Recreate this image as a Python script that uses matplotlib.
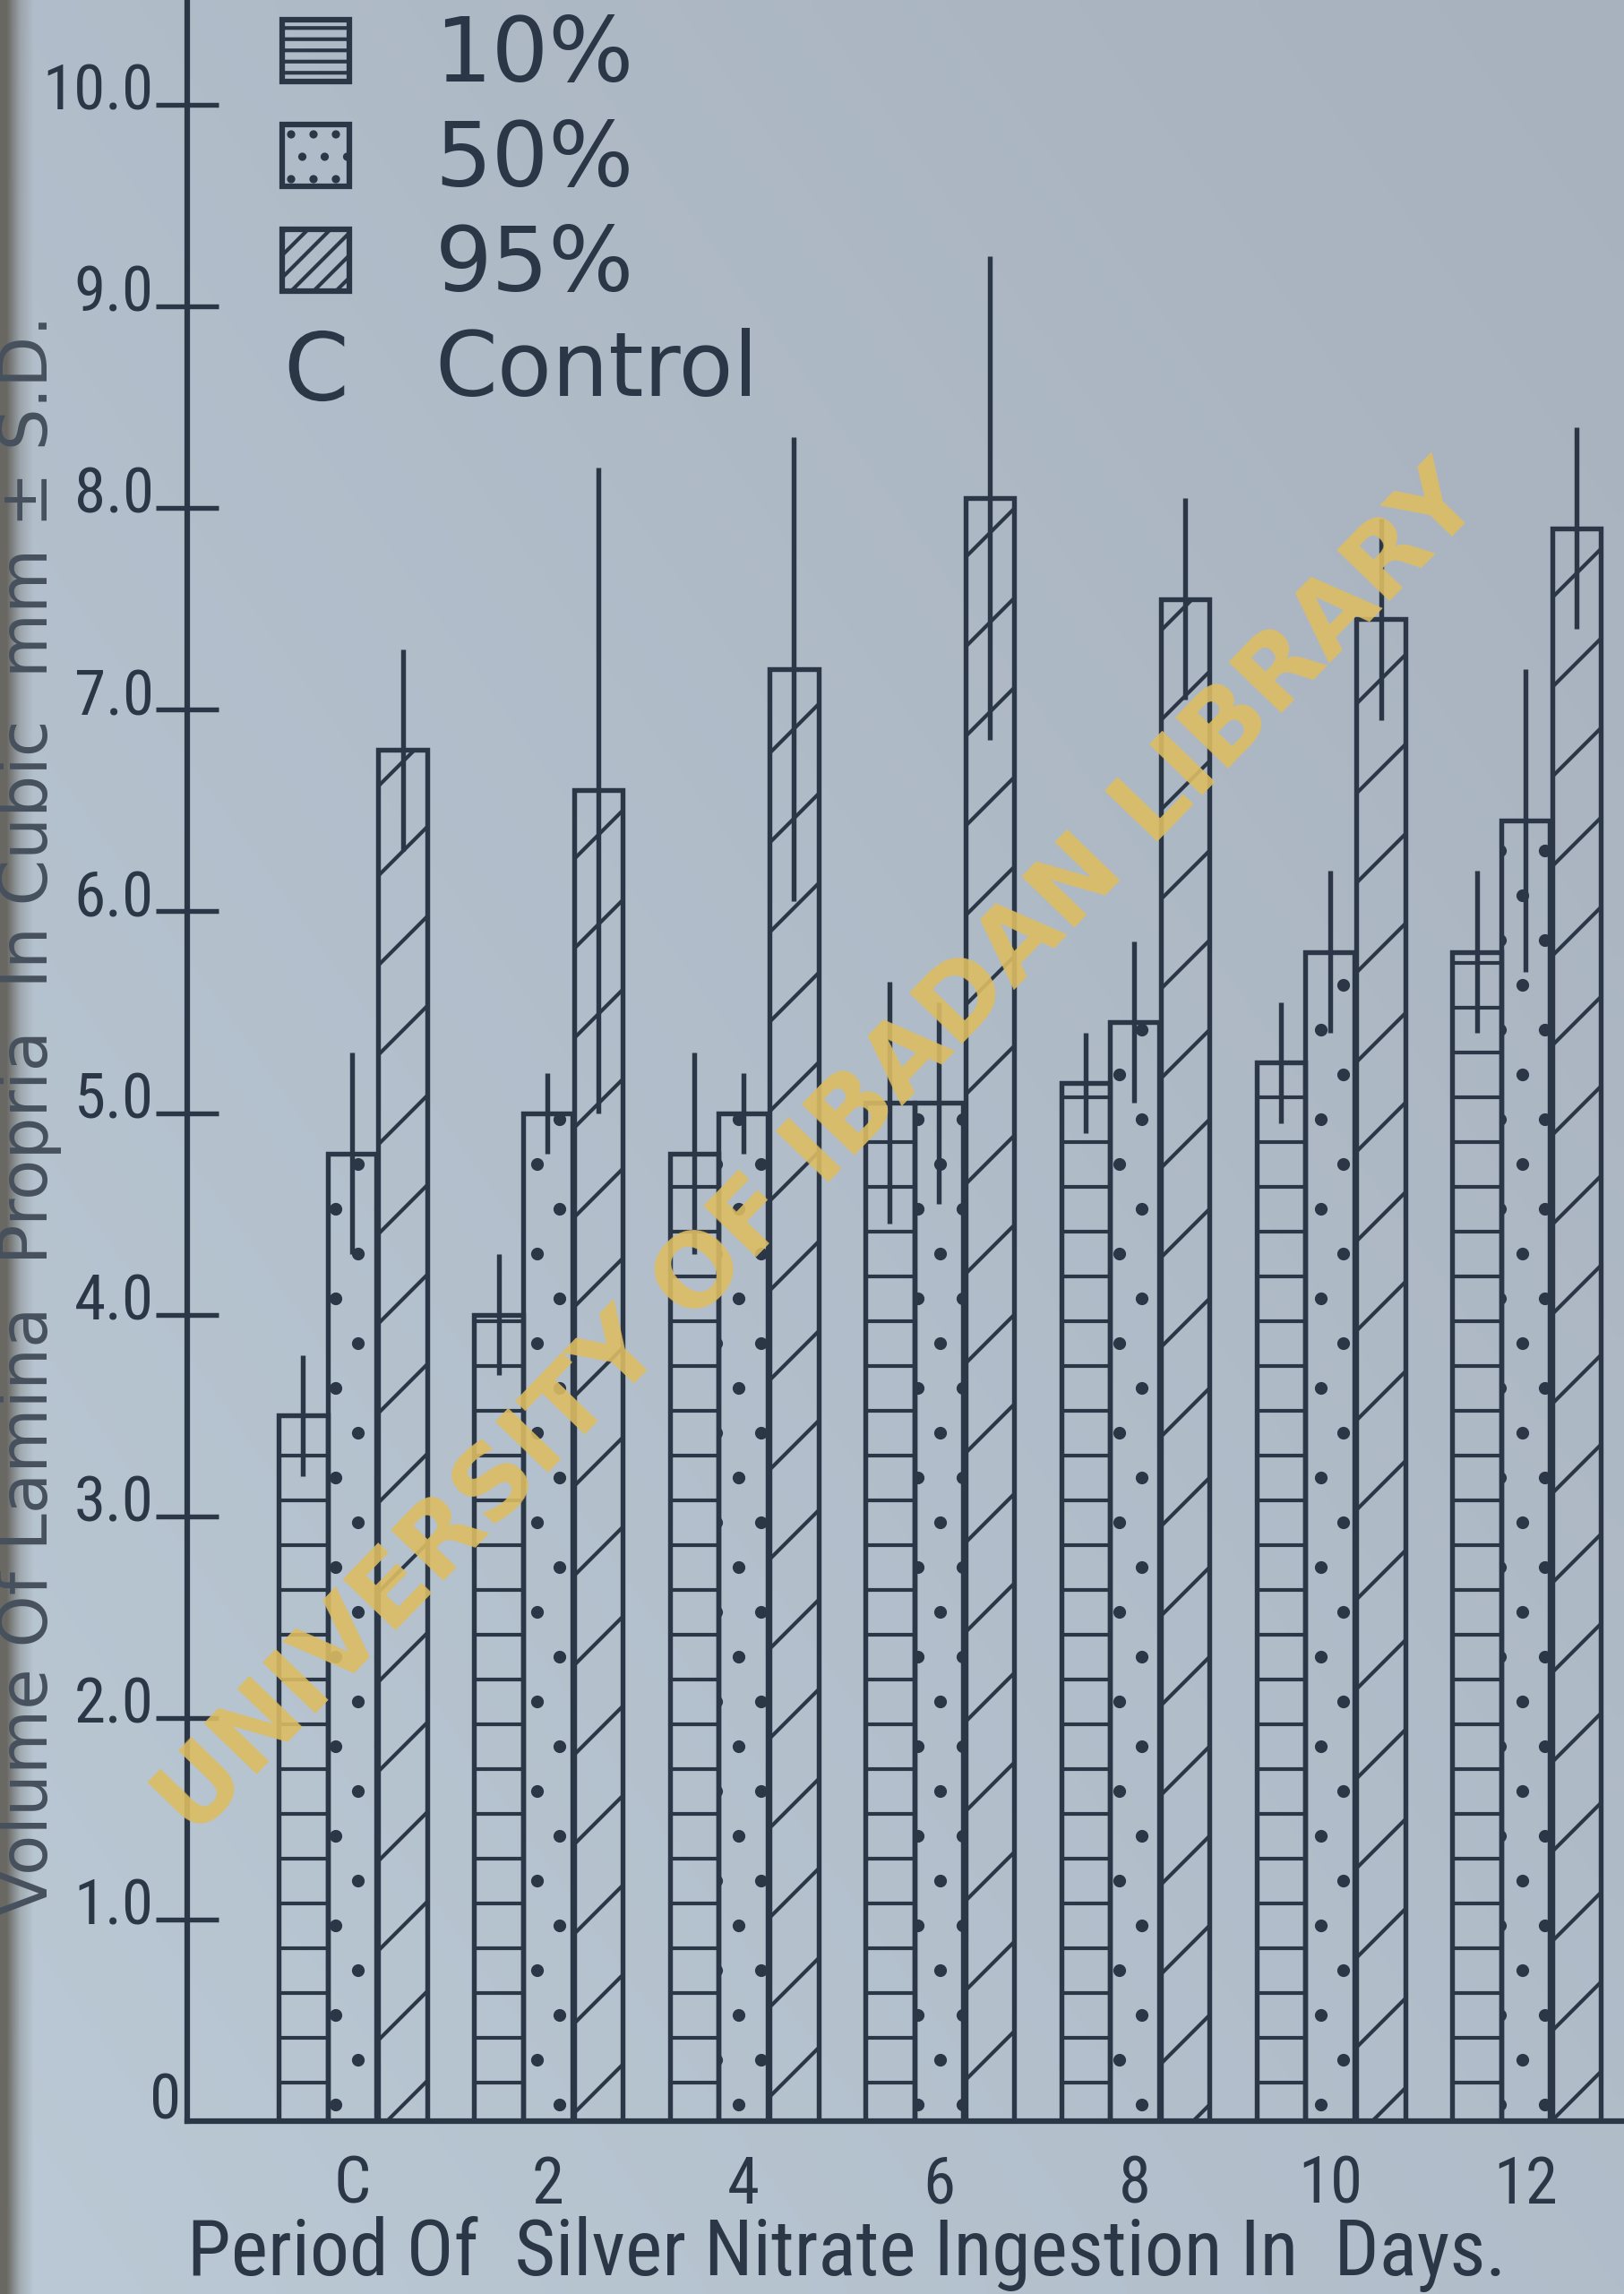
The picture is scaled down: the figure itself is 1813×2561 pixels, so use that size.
import matplotlib
matplotlib.use('Agg')
import matplotlib.pyplot as plt
import numpy as np
import matplotlib.transforms as mtransforms
from matplotlib.lines import Line2D
from matplotlib.patches import Patch
from matplotlib import font_manager as fm

# ---------------- data ----------------
groups = ['C', '2', '4', '6', '8', '10', '12']
series_labels = ['10%', '50%', '95%']
mean_10 = [3.5, 4.0, 4.8, 5.05, 5.15, 5.25, 5.8]
sd_10 = [0.3, 0.3, 0.5, 0.6, 0.25, 0.3, 0.4]
mean_50 = [4.8, 5.0, 5.0, 5.05, 5.45, 5.8, 6.45]
sd_50 = [0.5, 0.2, 0.2, 0.5, 0.4, 0.4, 0.75]
mean_95 = [6.8, 6.6, 7.2, 8.05, 7.55, 7.45, 7.9]
sd_95 = [0.5, 1.6, 1.15, 1.2, 0.5, 0.5, 0.5]
ytick_values = [0, 1, 2, 3, 4, 5, 6, 7, 8, 9, 10]
ytick_labels = ['0', '1.0', '2.0', '3.0', '4.0', '5.0', '6.0', '7.0', '8.0', '9.0', '10.0']
control_label = 'Control'
xlabel = 'Period Of  Silver Nitrate Ingestion In  Days.'
ylabel = 'Volume Of Lamina  Propria  In Cubic  mm \u00b1 S.D.'
watermark = 'UNIVERSITY OF IBADAN LIBRARY'

# ---------------- style ----------------
INK = '#2b3746'
WM = '#dcbd62'
BG_TR = np.array([168, 177, 190]) / 255.0   # top-right tone
BG_BL = np.array([186, 201, 213]) / 255.0   # bottom-left tone
BG = tuple((BG_TR + BG_BL) / 2)


def find_narrow():
    names = {f.name for f in fm.fontManager.ttflist}
    for p in ['Liberation Sans Narrow', 'Roboto Condensed', 'Open Sans Condensed',
              'Noto Sans Condensed', 'DejaVu Sans Condensed']:
        if p in names:
            return dict(fontfamily=p)
    for fam in ['DejaVu Sans', 'Noto Sans', 'Liberation Sans', 'Roboto', 'Open Sans']:
        for f in fm.fontManager.ttflist:
            if f.name == fam and str(f.stretch) in ('condensed', 'semi-condensed') \
                    and f.style == 'normal' and str(f.weight) in ('400', 'normal', 'regular', 'book'):
                return dict(fontfamily=fam, fontstretch=str(f.stretch))
    if 'Liberation Sans' in names:
        return dict(fontfamily='Liberation Sans')
    return dict(fontfamily='DejaVu Sans')


NARROW = find_narrow()

plt.rcParams['font.family'] = ['DejaVu Sans']
plt.rcParams['hatch.linewidth'] = 1.0
plt.rcParams['hatch.color'] = INK

DPI = 300
W, H = 1813, 2561
S = W / 1110.0  # reference-preview px -> output px
fig = plt.figure(figsize=(W / DPI, H / DPI), dpi=DPI)
fig.patch.set_facecolor(BG)

# paper tone (gradient) + book-gutter shadow, purely decorative
bax = fig.add_axes([0, 0, 1, 1], zorder=-10)
u = np.linspace(0, 1, 120)[None, :]
v = np.linspace(0, 1, 170)[:, None]
t = np.clip((u + (1 - v)) / 2, 0, 1)[..., None]
img = BG_BL * (1 - t) + BG_TR * t
shade = np.clip(1 - u / 0.012, 0, 1)[..., None][0][None, :, :]
gutter = np.array([92, 88, 80]) / 255.0
img = img * (1 - 0.85 * shade) + gutter * 0.85 * shade
bax.imshow(img, aspect='auto', extent=(0, 1, 0, 1), interpolation='bilinear')
bax.set_axis_off()

ax = fig.add_axes([0.1153, 0.0753, 1 - 0.1153, 1 - 0.0753])
ax.set_facecolor('none')

x = np.arange(len(groups))
w = 0.25
bar_kw = dict(width=w, facecolor='none', edgecolor=INK, linewidth=1.3, zorder=2)
b10 = ax.bar(x - 0.25, mean_10, hatch='-', **bar_kw)
b50 = ax.bar(x, mean_50, hatch='.', **bar_kw)
b95 = ax.bar(x + 0.26, mean_95, hatch='/', **bar_kw)

err_kw = dict(fmt='none', ecolor=INK, elinewidth=1.3, capsize=0, zorder=3)
ax.errorbar(x - 0.25, mean_10, yerr=sd_10, **err_kw)
ax.errorbar(x, mean_50, yerr=sd_50, **err_kw)
ax.errorbar(x + 0.26, mean_95, yerr=sd_95, **err_kw)

ax.set_xlim(-0.842, 6.503)
ax.set_ylim(0, 10.52)

for s in ['top', 'right']:
    ax.spines[s].set_visible(False)
for s in ['left', 'bottom']:
    ax.spines[s].set_color(INK)
    ax.spines[s].set_linewidth(1.5)

renderer = fig.canvas.get_renderer()


def text_extent(text, base=20.0, **kw):
    tt = fig.text(0, 0, text, fontsize=base, **kw)
    bb = tt.get_window_extent(renderer)
    tt.remove()
    return bb.width, bb.height


def size_for_width(text, target_px, base=20.0, **kw):
    return base * target_px / text_extent(text, base, **kw)[0]


def size_for_height(text, target_px, base=20.0, **kw):
    return base * target_px / text_extent(text, base, **kw)[1]


tick_size = min(21.0, size_for_width('10.0', 76 * S, **NARROW))
xt_size = min(21.0, size_for_width('10', 44 * S, **NARROW))

ax.set_xticks(x)
ax.set_xticklabels(groups, **NARROW)
ax.tick_params(axis='x', length=0, pad=9, labelsize=xt_size, labelcolor=INK)

ax.set_yticks(ytick_values[1:])
ax.set_yticklabels(ytick_labels[1:], **NARROW)
ax.tick_params(axis='y', direction='inout', length=17, width=1.3, color=INK,
               pad=0.5, labelsize=tick_size, labelcolor=INK)
offset = mtransforms.ScaledTranslation(0, 5 / 72, fig.dpi_scale_trans)
for lab in ax.get_yticklabels():
    lab.set_transform(lab.get_transform() + offset)
ax.text(-0.875, 0.1, ytick_labels[0], ha='right', va='center', fontsize=tick_size,
        color=INK, **NARROW)

# x-axis title: as large as the reference allows while staying inside the page
xl_size = min(size_for_width(xlabel, 902 * S, **NARROW),
              size_for_height(xlabel, 53 * S, **NARROW))
ax.set_xlabel(xlabel, fontsize=xl_size, color=INK, va='bottom', **NARROW)
ax.xaxis.set_label_coords((579 - 128) / 982, -0.0753 / 0.9247 + 0.0008)

yl_size = size_for_width(ylabel, 1095 * S)
ax.set_ylabel(ylabel, fontsize=yl_size, color='#46515d', va='center')
ax.yaxis.set_label_coords((20 - 128) / 982, 0.4745)

# legend keys (same hatch styles, drawn denser in the small key boxes)
key_kw = dict(facecolor='none', edgecolor=INK, linewidth=1.5)
k10 = Patch(hatch='----', **key_kw)
k50 = Patch(hatch='..', **key_kw)
k95 = Patch(hatch='////', **key_kw)
cline = Line2D([], [], linestyle='none', marker=r'$\mathrm{C}$', markersize=19,
               color=INK, markeredgewidth=0)
leg = ax.legend(handles=[k10, k50, k95, cline],
                labels=series_labels + [control_label],
                loc='upper left', bbox_to_anchor=(0.174, 0.994),
                bbox_transform=fig.transFigure, frameon=False, fontsize=24,
                handlelength=0.75, handleheight=0.68, handletextpad=0.95,
                labelspacing=0.2, borderpad=0, borderaxespad=0)
for tx in leg.get_texts():
    tx.set_color(INK)

wm_size = size_for_width(watermark, 2074, fontweight='bold')
fig.text(0.5045, 0.498, watermark, rotation=46, rotation_mode='anchor',
         ha='center', va='center', fontsize=wm_size, fontweight='bold',
         color=WM, alpha=0.9, zorder=10)

fig.savefig('out.png', dpi=DPI, facecolor=BG)
